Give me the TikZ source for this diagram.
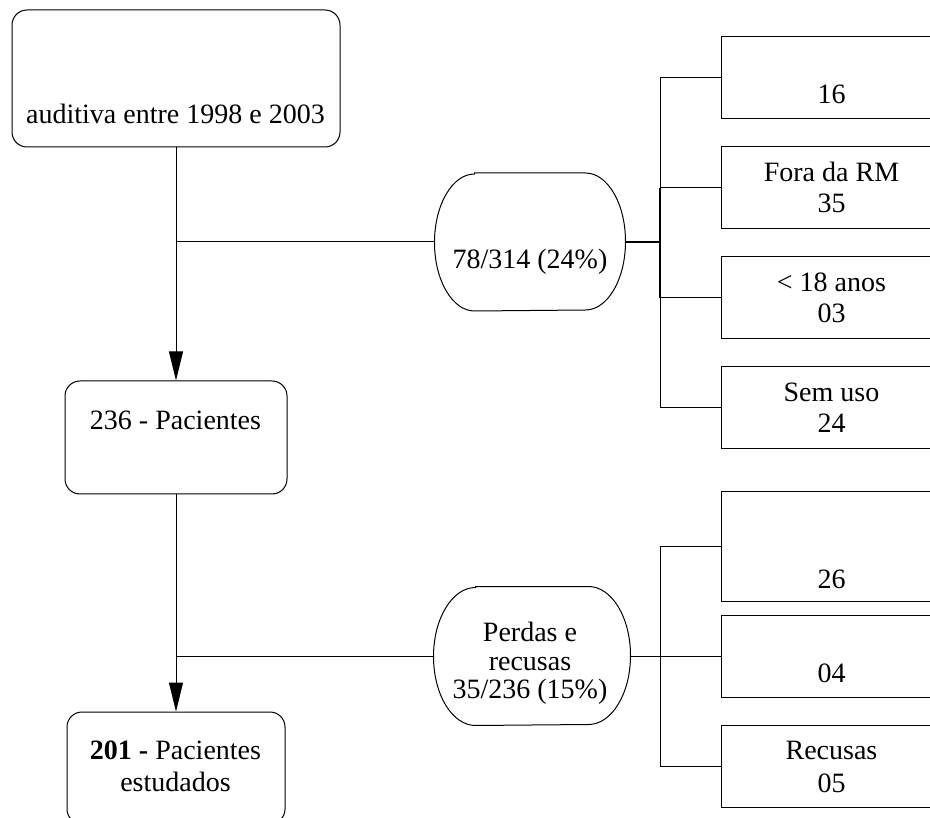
\documentclass[tikz,border=0pt]{standalone}
\usepackage{fontspec}
\setmainfont{Liberation Serif}
\usetikzlibrary{arrows.meta}
\begin{document}
\begin{tikzpicture}[x=1pt,y=1pt,line width=1pt,
  rbox/.style={draw, rounded corners=15pt, inner sep=0pt, fill=white},
  sbox/.style={draw, inner sep=0pt, fill=white, minimum width=224pt},
  oval/.style={inner sep=0pt, draw=none},
  txt/.style={inner sep=0pt, anchor=base, font=\fontsize{28}{31}\selectfont},
  conn/.style={line width=1pt},
  thickconn/.style={line width=2pt},
  arr/.style={-{Triangle[length=29pt,width=14pt]}}
]
\useasboundingbox (0,0) rectangle (930,-818);
\clip (0,0) rectangle (930,-818);

% left column boxes
\node[rbox, minimum width=328pt, minimum height=137pt] (top) at (176,-78.5) {};
\node[rbox, minimum width=222pt, minimum height=113pt] (mid) at (176,-437.5) {};
\node[rbox, minimum width=218pt, minimum height=112pt] (bot) at (176,-768) {};

% ovals
\node[oval, minimum width=190pt, minimum height=137pt] (e1) at (530,-242) {};
\node[oval, minimum width=196pt, minimum height=138pt] (e2) at (532,-656) {};
\draw ([xshift=40pt]e1.north west) -- ([xshift=-40pt]e1.north east)
  arc[start angle=90, end angle=-90, x radius=40pt, y radius=68.5pt]
  -- ([xshift=40pt]e1.south west)
  arc[start angle=270, end angle=90, x radius=40pt, y radius=68.5pt] -- cycle;
\draw ([xshift=42pt]e2.north west) -- ([xshift=-42pt]e2.north east)
  arc[start angle=90, end angle=-90, x radius=42pt, y radius=69pt]
  -- ([xshift=42pt]e2.south west)
  arc[start angle=270, end angle=90, x radius=42pt, y radius=69pt] -- cycle;

% right boxes
\node[sbox, minimum height=82pt] (r1) at (833,-78) {};
\node[sbox, minimum height=82pt] (r2) at (833,-188) {};
\node[sbox, minimum height=82pt] (r3) at (833,-298) {};
\node[sbox, minimum height=82pt] (r4) at (833,-408) {};
\node[sbox, minimum height=109pt] (r5) at (833,-546.5) {};
\node[sbox, minimum height=82pt] (r6) at (833,-656) {};
\node[sbox, minimum height=82pt] (r7) at (833,-766.5) {};

% branch coordinates
\coordinate (b1) at (660,-242);
\coordinate (b2) at (660,-656);

% connectors
\draw[conn, arr] (top.south) -- (mid.north);
\draw[conn, arr] (mid.south) -- (bot.north);
\draw[conn] (top.south |- e1.west) -- (e1.west);
\draw[conn] (mid.south |- e2.west) -- (e2.west);
\draw[thickconn] (e1.east) -- (b1);
\draw[conn] (e2.east) -- (b2);

\draw[conn] (b1 |- r1.west) -- (b1 |- r2.west);
\draw[thickconn] (b1 |- r2.west) -- (b1 |- r3.west);
\draw[conn] (b1 |- r3.west) -- (b1 |- r4.west);
\draw[conn] (b1 |- r1.west) -- (r1.west);
\draw[conn] (b1 |- r2.west) -- (r2.west);
\draw[conn] (b1 |- r3.west) -- (r3.west);
\draw[conn] (b1 |- r4.west) -- (r4.west);

\draw[conn] (b2 |- r5.west) -- (b2 |- r7.west);
\draw[conn] (b2 |- r5.west) -- (r5.west);
\draw[conn] (b2 |- r6.west) -- (r6.west);
\draw[conn] (b2 |- r7.west) -- (r7.west);

% texts
\node[txt] (ttop) at (175.5,-124) {auditiva entre 1998 e 2003};
\node[txt] (tmid) at (175.5,-430) {236 - Pacientes};
\node[txt] (tbot1) at (175.5,-759) {\textbf{201 -} Pacientes};
\node[txt] (tbot2) at (175.5,-791) {estudados};
\node[txt] (te1) at (530,-269) {78/314 (24\%)};
\node[txt] (te2a) at (530,-641) {Perdas e};
\node[txt] (te2b) at (530,-670) {recusas};
\node[txt] (te2c) at (530,-698) {35/236 (15\%)};
\node[txt] (tr1) at (831.5,-104) {16};
\node[txt] (tr2a) at (831.5,-182) {Fora da RM};
\node[txt] (tr2b) at (831.5,-213) {35};
\node[txt] (tr3a) at (831.5,-292) {< 18 anos};
\node[txt] (tr3b) at (831.5,-323) {03};
\node[txt] (tr4a) at (831.5,-402) {Sem uso};
\node[txt] (tr4b) at (831.5,-433) {24};
\node[txt] (tr5) at (831.5,-588) {26};
\node[txt] (tr6) at (831.5,-682) {04};
\node[txt] (tr7a) at (831.5,-759) {Recusas};
\node[txt] (tr7b) at (831.5,-792) {05};
\end{tikzpicture}
\end{document}
